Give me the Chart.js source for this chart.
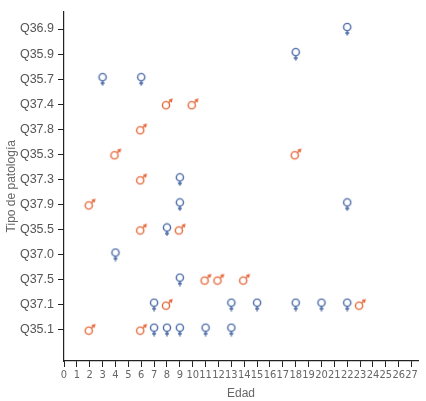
<!DOCTYPE html>
<html>
<head>
<meta charset="utf-8">
<script src="https://cdn.jsdelivr.net/npm/chart.js@4/dist/chart.umd.min.js"></script>
<style>
  body { margin: 0; background: #fff; }
  #wrap { width: 426px; height: 401px; }
</style>
</head>
<body>
<div id="wrap"><canvas id="chartEdad" width="426" height="401"></canvas></div>
<script>
// Categorías de arriba hacia abajo
const categorias = ['Q36.9', 'Q35.9', 'Q35.7', 'Q37.4', 'Q37.8', 'Q35.3', 'Q37.3',
                    'Q37.9', 'Q35.5', 'Q37.0', 'Q37.5', 'Q37.1', 'Q35.1'];
// Edades por categoría (mismo orden)
const edadesMujer = [[22], [18], [3, 6], [], [], [], [9],
                     [9, 22], [8], [4], [9], [7, 13, 15, 18, 20, 22], [7, 8, 9, 11, 13]];
const edadesHombre = [[], [], [], [8, 10], [6], [4, 18], [6],
                      [2], [6, 9], [], [11, 12, 14], [8, 23], [2, 6]];
const ticksEdad = [...Array(28).keys()];

const azul = '#4a6aa6';
const naranja = '#e5683a';

function puntos(lista) {
    const out = [];
    lista.forEach((edades, i) => {
        edades.forEach(e => out.push({ x: e, y: categorias.length - 1 - i }));
    });
    return out;
}

// símbolo ♀
function simboloMujer() {
    const c = document.createElement('canvas');
    c.width = 14; c.height = 14;
    const g = c.getContext('2d');
    g.strokeStyle = azul; g.lineWidth = 1.4;
    g.beginPath(); g.arc(7, 5, 3.6, 0, Math.PI * 2); g.stroke();
    g.beginPath();
    g.moveTo(7, 8.6); g.lineTo(7, 13.5);
    g.moveTo(5, 11); g.lineTo(9, 11);
    g.stroke();
    return c;
}

// símbolo ♂
function simboloHombre() {
    const c = document.createElement('canvas');
    c.width = 14; c.height = 14;
    const g = c.getContext('2d');
    g.strokeStyle = naranja; g.fillStyle = naranja; g.lineWidth = 1.4;
    g.beginPath(); g.arc(6, 8, 3.6, 0, Math.PI * 2); g.stroke();
    g.beginPath(); g.moveTo(8.6, 5.4); g.lineTo(11, 3); g.stroke();
    g.beginPath(); g.moveTo(12.8, 1.2); g.lineTo(8.6, 2.2); g.lineTo(11.8, 5.4); g.closePath(); g.fill();
    return c;
}

const fuente = "'Liberation Sans', Arial, sans-serif";
const fuenteEstrecha = "'DejaVu Sans Condensed', 'Liberation Sans', sans-serif";

const ctx = document.getElementById('chartEdad').getContext('2d');
new Chart(ctx, {
    type: 'scatter',
    data: {
        datasets: [{
            label: 'Mujer',
            data: puntos(edadesMujer),
            pointStyle: simboloMujer(),
            pointRadius: 7
        }, {
            label: 'Hombre',
            data: puntos(edadesHombre),
            pointStyle: simboloHombre(),
            pointRadius: 7
        }]
    },
    options: {
        responsive: false,
        animation: false,
        layout: { padding: { top: 1, right: 6 } },
        plugins: {
            legend: { display: false },
            tooltip: { enabled: false }
        },
        scales: {
            x: {
                type: 'linear',
                min: 0,
                max: 27.5,
                afterFit: function(s) { s.height = 40; },
                afterBuildTicks: function(s) { s.ticks = ticksEdad.map(v => ({ value: v })); },
                border: { display: true, color: '#222', width: 1.2 },
                grid: { drawOnChartArea: false, tickLength: 6, color: '#222', tickWidth: 1 },
                ticks: {
                    padding: 2,
                    color: '#666',
                    font: { family: fuenteEstrecha, size: 11 },
                    maxRotation: 0,
                    autoSkip: false
                },
                title: {
                    display: true,
                    text: 'Edad',
                    color: '#666',
                    font: { family: fuente, size: 12 },
                    padding: { top: 4, bottom: 0 }
                }
            },
            y: {
                type: 'linear',
                min: -1.25,
                max: 12.7,
                afterFit: function(s) { s.width = 64; },
                afterBuildTicks: function(s) { s.ticks = categorias.map((c, i) => ({ value: i })); },
                border: { display: true, color: '#222', width: 1.2 },
                grid: { drawOnChartArea: false, tickLength: 6, color: '#222', tickWidth: 1 },
                ticks: {
                    padding: 4,
                    color: '#555',
                    font: { family: fuente, size: 12.5 },
                    callback: function(v) { return categorias[categorias.length - 1 - v]; }
                },
                title: {
                    display: true,
                    text: 'Tipo de patología',
                    color: '#666',
                    font: { family: fuente, size: 12 },
                    padding: { bottom: 0 }
                }
            }
        }
    }
});
</script>
</body>
</html>
